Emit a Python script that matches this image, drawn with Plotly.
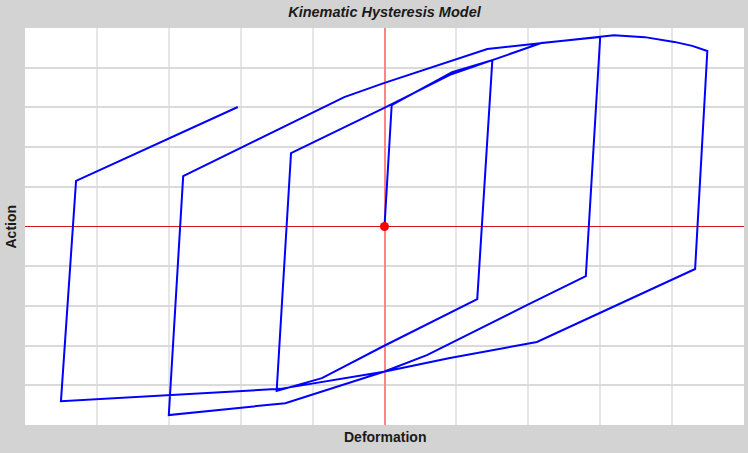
import plotly.graph_objects as go

# Hysteresis path (deformation, action)
deformation = [0.00, 0.10, 0.94, 1.50, 1.29, -0.01, -0.87, -1.50,
               -1.30, -0.01, 0.91, 1.50, 2.18, 3.00,
               2.80, 1.98, 0.59, -0.01, -1.38, -3.00,
               -2.80, -0.56, -0.01, 1.43, 2.18, 3.19, 3.62, 4.03, 4.28, 4.49,
               4.32, 2.12, 0.91, -0.01, -1.45, -4.50,
               -4.29, -2.04]
action = [0.00, 3.06, 3.89, 4.19, -1.83, -3.01, -3.82, -4.14,
          1.85, 2.98, 3.82, 4.20, 4.62, 4.77,
          -1.25, -1.98, -3.24, -3.66, -4.45, -4.75,
          1.27, 3.26, 3.61, 4.47, 4.62, 4.82, 4.77, 4.65, 4.55, 4.42,
          -1.07, -2.91, -3.31, -3.66, -4.09, -4.40,
          1.15, 3.01]

origin_x = [0.0]
origin_y = [0.0]

fig = go.Figure()
fig.add_trace(go.Scatter(x=deformation, y=action, mode="lines",
                         line=dict(color="#0000ff", width=2),
                         showlegend=False, hoverinfo="skip"))
fig.add_trace(go.Scatter(x=origin_x, y=origin_y, mode="markers",
                         marker=dict(color="#ff0000", size=9),
                         showlegend=False, hoverinfo="skip"))

fig.update_layout(
    width=748, height=453,
    margin=dict(l=25, r=4, t=28, b=28),
    paper_bgcolor="#d3d3d3",
    plot_bgcolor="#ffffff",
    title=dict(text="<b><i>Kinematic Hysteresis Model</i></b>",
               x=0.514, xanchor="center", y=1 - 12 / 453, yanchor="middle",
               yref="container",
               font=dict(family="Liberation Sans, Arial", size=14.5, color="#1a1a1a")),
    xaxis=dict(range=[-5, 5], dtick=1, showticklabels=False, ticks="",
               showgrid=True, gridcolor="#e6e6e6", gridwidth=2,
               zeroline=True, zerolinecolor="#ff8585", zerolinewidth=1.5,
               showline=False, fixedrange=True),
    yaxis=dict(range=[-5, 5], dtick=1, showticklabels=False, ticks="",
               showgrid=True, gridcolor="#dadada", gridwidth=1.5,
               zeroline=True, zerolinecolor="#d01818", zerolinewidth=1,
               showline=False, fixedrange=True),
    annotations=[
        dict(text="<b>Deformation</b>", xref="paper", yref="paper",
             x=0.5, y=-12 / 397, xanchor="center", yanchor="middle",
             showarrow=False,
             font=dict(family="Liberation Sans, Arial", size=14, color="#1a1a1a")),
        dict(text="<b>Action</b>", xref="paper", yref="paper",
             x=-15 / 719, y=0.5, xanchor="center", yanchor="middle",
             textangle=-90, showarrow=False,
             font=dict(family="Liberation Sans, Arial", size=14, color="#1a1a1a")),
    ],
)

fig.write_html("out.html", config={"displayModeBar": False},
               post_script="document.body.style.margin='0';document.body.style.padding='0';")
